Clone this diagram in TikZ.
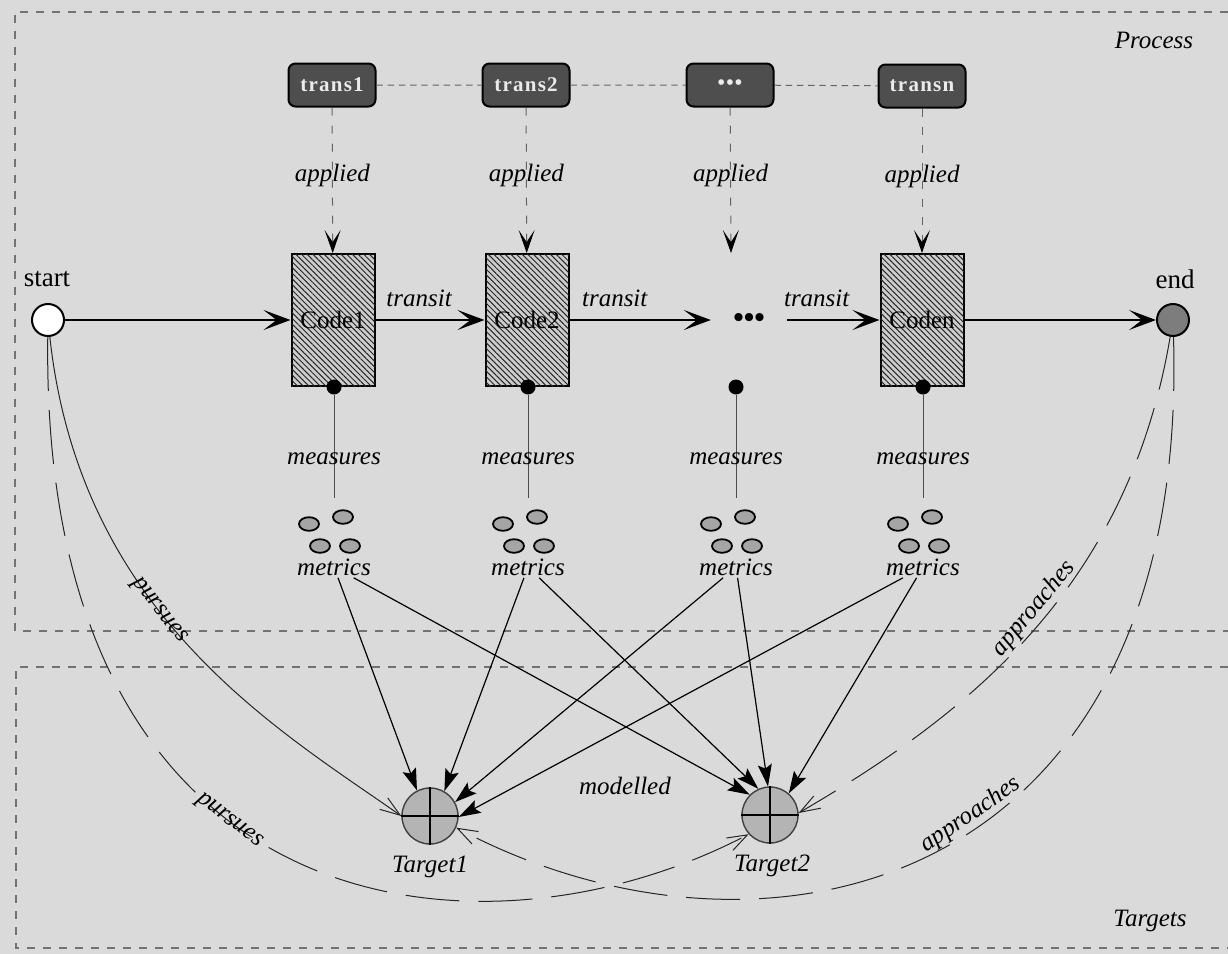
\documentclass[tikz,border=0pt]{standalone}
\usepackage{fontspec}
\setmainfont{Liberation Serif}
\usetikzlibrary{arrows.meta,shapes.geometric,patterns.meta}
\definecolor{bgcol}{RGB}{218,218,218}
\definecolor{transfill}{RGB}{78,78,78}
\definecolor{hatchbg}{RGB}{205,205,205}
\definecolor{endfill}{RGB}{125,125,125}
\definecolor{tgtfill}{RGB}{180,180,180}
\definecolor{metfill}{RGB}{165,165,165}
\definecolor{dashgray}{RGB}{100,100,100}
\tikzset{
  lbl/.style={font=\itshape\fontsize{12.5}{15}\selectfont, inner sep=1pt},
  plainlbl/.style={font=\fontsize{13.5}{16}\selectfont, inner sep=1pt},
  transbox/.style={draw=black, line width=1pt, rounded corners=3.5pt, fill=transfill,
    text=white!92!black, font=\bfseries\fontsize{10.5}{12}\selectfont\addfontfeature{LetterSpace=6},
    minimum width=43.5pt, minimum height=21.5pt, inner sep=0pt},
  codebox/.style={draw=black, line width=1pt, fill=hatchbg, minimum width=41.5pt,
    minimum height=66pt, inner sep=0pt, font=\fontsize{12.5}{14}\selectfont,
    postaction={pattern={Lines[angle=-45,distance=2pt,line width=0.5pt]}, pattern color=black!85}},
  terminal/.style={circle, draw=black, line width=1pt, minimum size=16pt, inner sep=0pt},
  mainarrow/.style={line width=1pt, -{Stealth[length=13.5pt,width=10pt,inset=6.5pt]}},
  appliedarrow/.style={draw=dashgray, line width=0.5pt, dash pattern=on 4pt off 5pt,
    -{Stealth[length=11.5pt,width=8pt,inset=6pt,color=black]}},
  transchain/.style={draw=dashgray, line width=0.5pt, dash pattern=on 3.2pt off 2.4pt},
  probe/.style={circle, fill=black, minimum size=7.5pt, inner sep=0pt},
  measline/.style={draw=black!70, line width=0.5pt},
  metric/.style={ellipse, draw=black, line width=0.9pt, fill=metfill, minimum width=10pt,
    minimum height=6.8pt, inner sep=0pt},
  targetnode/.style={circle, draw=black!75, fill=tgtfill, line width=0.7pt, minimum size=28pt, inner sep=0pt},
  feed/.style={line width=0.6pt, -{Stealth[length=11pt,width=7pt,inset=2pt]}},
  flowcurve/.style={draw=black!85, line width=0.5pt, -{Straight Barb[length=10pt,width=7pt]}},
  longdash/.style={dash pattern=on 27pt off 9.5pt},
  sectionframe/.style={draw=black!55, line width=0.6pt, dash pattern=on 4pt off 4pt},
}
\begin{document}
\begin{tikzpicture}[x=0.5pt,y=-0.5pt]
\fill[bgcol] (0,0) rectangle (1228,954);
\useasboundingbox (0,0) rectangle (1228,954);

% section frames
\draw[sectionframe] (1228,12) -- (15,12) -- (15,631) -- (1228,631);
\draw[sectionframe] (1228,667) -- (16,667) -- (16,948) -- (1228,948);
\node[lbl] (proc) at (1154,40) {Process};
\node[lbl] (tgts) at (1150,921) {Targets};

% transformations
\node[transbox] (tr1) at (332,85) {trans1};
\node[transbox] (tr2) at (526,85) {trans2};
\node[transbox] (tr3) at (730,85) {•••};
\node[transbox] (tr4) at (922,86) {transn};

% code versions along the main flow
\node[codebox] (c1) at (333,320) {Code1};
\node[codebox] (c2) at (527,320) {Code2};
\node[font=\bfseries\fontsize{15}{17}\selectfont, inner xsep=11pt, inner ysep=2pt] (dd) at (749,320) {•••};
\node[codebox] (cn) at (922,320) {Coden};
\coordinate (a3) at (731,253);

\node[terminal, fill=white] (st) at (48,320) {};
\node[terminal, fill=endfill] (en) at (1173,320) {};
\node[plainlbl] (stl) at (47,279) {start};
\node[plainlbl] (enl) at (1175,279) {end};

% targets
\node[targetnode] (t1) at (430,816) {};
\node[targetnode] (t2) at (770,815) {};
\draw[line width=0.6pt] (t1.north) -- (t1.south) (t1.west) -- (t1.east);
\draw[line width=0.6pt] (t2.north) -- (t2.south) (t2.west) -- (t2.east);
\node[lbl] (t1l) at (430,867) {Target1};
\node[lbl] (t2l) at (772,866) {Target2};
\node[lbl] (mod) at (625,786) {modelled};

% transformation chain and application
\draw[transchain] (tr1) -- (tr2) (tr2) -- (tr3) (tr3) -- (tr4);
\draw[appliedarrow] (tr1) -- node[lbl,pos=0.47] (ap1) {applied} (c1);
\draw[appliedarrow] (tr2) -- node[lbl,pos=0.47] (ap2) {applied} (c2);
\draw[appliedarrow] (tr3) -- node[lbl,pos=0.47] (ap3) {applied} (a3);
\draw[appliedarrow] (tr4) -- node[lbl,pos=0.47] (ap4) {applied} (cn);

% main flow
\draw[mainarrow] (st) -- (c1);
\draw[mainarrow] (c1) -- node[lbl,above=5pt,pos=0.4] (tl1) {transit} (c2);
\draw[mainarrow] (c2) -- node[lbl,above=5pt,pos=0.32] (tl2) {transit} (dd);
\draw[mainarrow] (dd) -- node[lbl,above=5pt,pos=0.32] (tl3) {transit} (cn);
\draw[mainarrow] (cn) -- (en);

% probes, measurements and metric clusters
\foreach \i/\x in {1/334,2/528,3/736,4/923}{
  \node[probe] (d\i) at (\x,387) {};
  \coordinate (g\i) at (\x,498);
  \node[metric] (e\i-1) at (\x-25,524) {};
  \node[metric] (e\i-2) at (\x+9,517) {};
  \node[metric] (e\i-3) at (\x-14,546) {};
  \node[metric] (e\i-4) at (\x+16,546) {};
  \node[lbl] (m\i) at (\x,567) {metrics};
  \draw[measline] (d\i) -- node[lbl,pos=0.62] (ms\i) {measures} (g\i);
}

% metrics feeding the targets
\draw[feed] (m1) -- (t1.117);
\draw[feed] (m1) -- (t2.135);
\draw[feed] (m2) -- (t1.60);
\draw[feed] (m2) -- (t2.114);
\draw[feed] (m3) -- (t1.29);
\draw[feed] (m3) -- (t2.94);
\draw[feed] (m4) -- (t1.-2);
\draw[feed] (m4) -- (t2.49);

% pursuit and approach arcs
\draw[flowcurve] (st) .. controls (80,615) and (279,730) .. node[lbl,sloped,pos=0.42] (pu1) {pursues} (t1.180);
\draw[flowcurve,longdash] (st) .. controls (40,930) and (480,975) .. node[lbl,sloped,pos=0.42] (pu2) {pursues} (t2.-138);
\draw[flowcurve,longdash] (en) .. controls (1128,587) and (970,713) .. node[lbl,sloped,above,pos=0.47] (apr1) {approaches} (t2.4);
\draw[flowcurve,longdash] (en) .. controls (1190,890) and (766,992) .. node[lbl,sloped,above,pos=0.45] (apr2) {approaches} (t1.-24);
\end{tikzpicture}
\end{document}
